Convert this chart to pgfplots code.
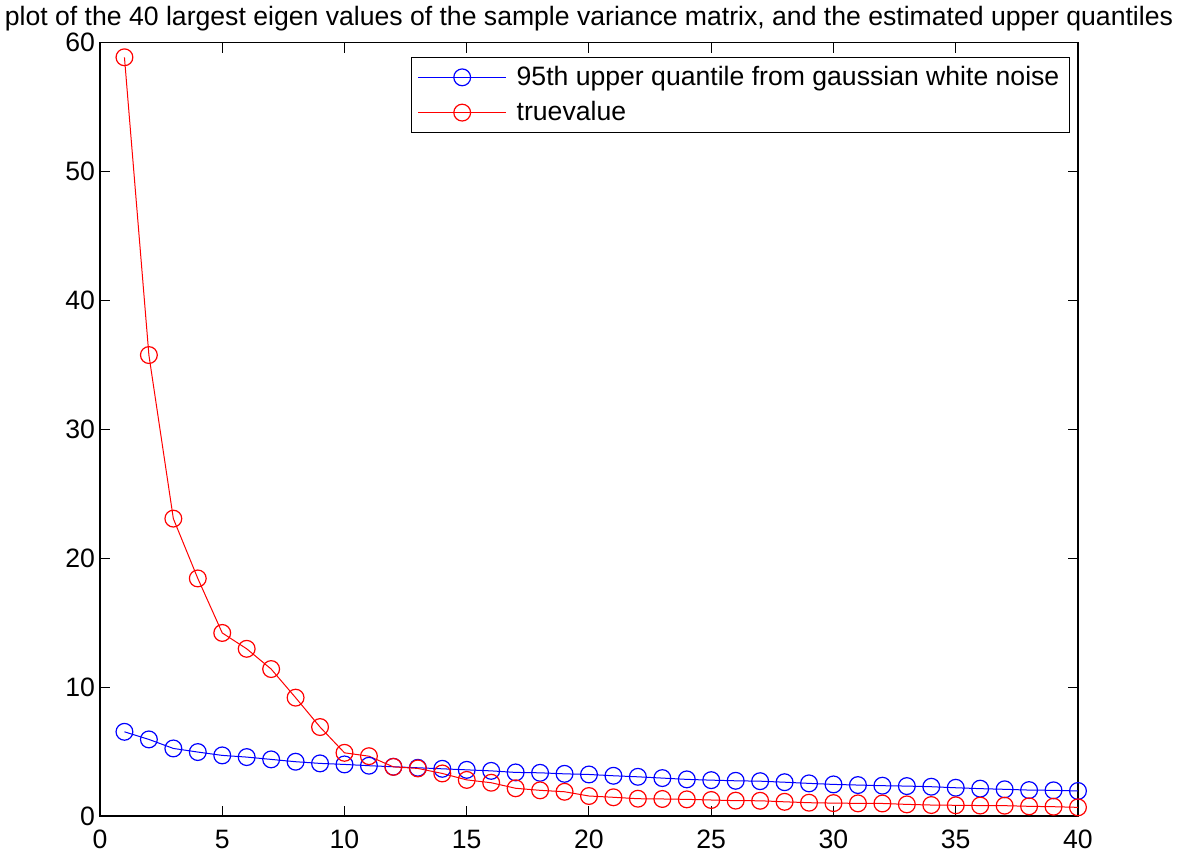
\documentclass[border=0pt]{standalone}
\usepackage{fontspec}
\setmainfont{Liberation Sans}
\usepackage{pgfplots}
\pgfplotsset{compat=1.18}
\begin{document}
\begin{tikzpicture}
\useasboundingbox (-50pt,-19.5pt) rectangle (540pt,408pt);
\begin{axis}[
  at={(0,0)}, anchor=south west,
  scale only axis, width=489pt, height=386.7pt,
  xmin=0, xmax=40, ymin=0, ymax=60,
  xtick={0,5,...,40}, ytick={0,10,...,60},
  tick align=inside, major tick length=5pt,
  every tick/.style={black, line width=0.5pt},
  axis line style={line width=0.7pt},
  font=\fontsize{13.3}{15}\selectfont,
  /pgf/number format/assume math mode=true,
  ticklabel style={font=\fontsize{13.3}{15}\selectfont},
  xticklabel style={yshift=-3.5pt},
  yticklabel style={xshift=1pt},
  title={plot of the 40 largest eigen values of the sample variance matrix, and the estimated upper quantiles},
  title style={at={(0.5,1)}, anchor=base, yshift=2.8pt, font=\fontsize{13.3}{15}\selectfont},
  legend cell align=left,
  legend style={at={(1,1)}, anchor=north east, xshift=-4pt, yshift=-7pt,
    draw=black, line width=0.6pt, font=\fontsize{13.3}{15}\selectfont,
    row sep=2.5pt, inner xsep=3pt, inner ysep=2.5pt},
  legend image code/.code={
    \draw[mark repeat=2,mark phase=2,#1] plot coordinates {(0pt,0pt) (22pt,0pt) (44pt,0pt)};
    \path (47pt,0pt);
  },
]
\addplot[blue, line width=0.5pt, mark=o, mark size=4.2pt, mark options={line width=0.6pt}] coordinates {
(1,6.53) (2,5.94) (3,5.24) (4,4.96) (5,4.70) (6,4.57) (7,4.39) (8,4.21) (9,4.08) (10,4.00)
(11,3.90) (12,3.82) (13,3.74) (14,3.66) (15,3.58) (16,3.50) (17,3.38) (18,3.35) (19,3.27) (20,3.22)
(21,3.12) (22,3.04) (23,2.94) (24,2.84) (25,2.78) (26,2.73) (27,2.70) (28,2.62) (29,2.53) (30,2.45)
(31,2.40) (32,2.35) (33,2.32) (34,2.27) (35,2.19) (36,2.12) (37,2.07) (38,2.01) (39,1.99) (40,1.94)
};
\addlegendentry{95th upper quantile from gaussian white noise}
\addplot[red, line width=0.5pt, mark=o, mark size=4.2pt, mark options={line width=0.6pt}] coordinates {
(1,58.86) (2,35.76) (3,23.07) (4,18.43) (5,14.20) (6,12.97) (7,11.40) (8,9.18) (9,6.90) (10,4.90)
(11,4.64) (12,3.81) (13,3.69) (14,3.30) (15,2.80) (16,2.58) (17,2.15) (18,1.99) (19,1.88) (20,1.55)
(21,1.45) (22,1.34) (23,1.32) (24,1.29) (25,1.24) (26,1.19) (27,1.18) (28,1.10) (29,1.03) (30,1.00)
(31,0.98) (32,0.97) (33,0.90) (34,0.85) (35,0.83) (36,0.81) (37,0.80) (38,0.75) (39,0.72) (40,0.67)
};
\addlegendentry{truevalue}
\end{axis}
\end{tikzpicture}
\end{document}
